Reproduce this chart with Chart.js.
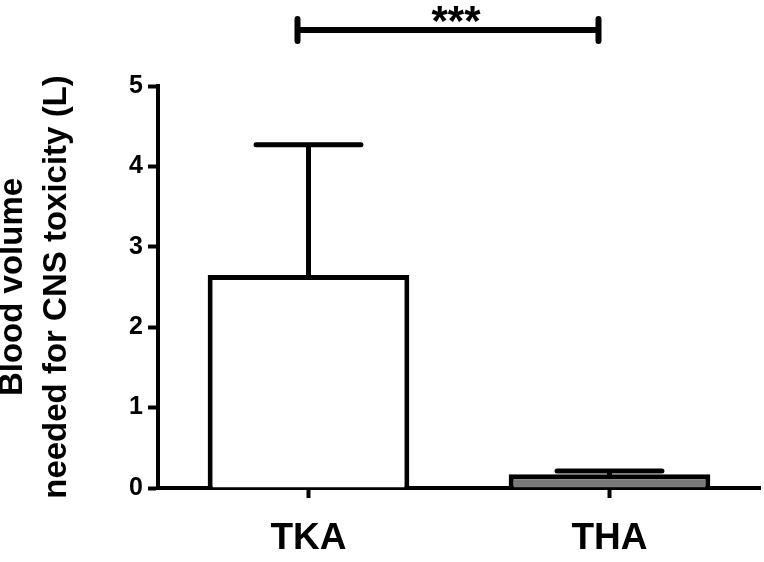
<!DOCTYPE html>
<html>
<head>
<meta charset="utf-8">
<script src="https://cdn.jsdelivr.net/npm/chart.js@4/dist/chart.umd.min.js"></script>
<style>
  html, body { margin: 0; padding: 0; background: #fff; }
  #wrap { width: 764px; height: 562px; }
</style>
</head>
<body>
<div id="wrap"><canvas id="bloodChart"></canvas></div>
<script>
const categories = ['TKA', 'THA'];
const meanVolume = [2.65, 0.17];
const sdVolume   = [1.62, 0.04];
const yTicks     = [0, 1, 2, 3, 4, 5];
const sigLabel   = '***';
const barFill    = ['#ffffff', '#7a7a7a'];

// error bars (mean + SD, upper only) and the significance bracket
const extrasPlugin = {
  id: 'extras',
  afterDatasetsDraw(chart) {
    const ctx = chart.ctx;
    const y = chart.scales.y;
    const bars = chart.getDatasetMeta(0).data;
    ctx.save();
    ctx.strokeStyle = '#000';
    ctx.lineWidth = 5;
    ctx.lineCap = 'round';
    bars.forEach((bar, i) => {
      const top = y.getPixelForValue(meanVolume[i] + sdVolume[i]);
      const half = bar.width * 0.26;
      ctx.beginPath();
      ctx.moveTo(bar.x, bar.y);
      ctx.lineTo(bar.x, top);
      ctx.moveTo(bar.x - half, top);
      ctx.lineTo(bar.x + half, top);
      ctx.stroke();
    });

    // bracket between the two groups, above the plot
    const x1 = bars[0].x - 11, x2 = bars[1].x - 11;
    const by = chart.chartArea.top - 56;
    ctx.lineWidth = 6;
    ctx.beginPath();
    ctx.moveTo(x1, by); ctx.lineTo(x2, by);
    ctx.moveTo(x1, by - 11); ctx.lineTo(x1, by + 11);
    ctx.moveTo(x2, by - 11); ctx.lineTo(x2, by + 11);
    ctx.stroke();
    ctx.fillStyle = '#000';
    ctx.font = 'bold 42px "Liberation Sans", Arial, sans-serif';
    ctx.textAlign = 'center';
    ctx.textBaseline = 'alphabetic';
    ctx.fillText(sigLabel, (x1 + x2) / 2 + 8, by + 5);
    ctx.restore();
  }
};

const ctx = document.getElementById('bloodChart').getContext('2d');
new Chart(ctx, {
  type: 'bar',
  data: {
    labels: categories,
    datasets: [{
      data: meanVolume,
      backgroundColor: barFill,
      borderColor: '#000',
      borderWidth: 5,
      borderSkipped: 'bottom',
      categoryPercentage: 1,
      barPercentage: 0.67
    }]
  },
  options: {
    responsive: true,
    maintainAspectRatio: false,
    animation: false,
    devicePixelRatio: 1,
    layout: { padding: { top: 86, right: 4, left: 0, bottom: 0 } },
    plugins: { legend: { display: false }, tooltip: { enabled: false } },
    scales: {
      x: {
        grid: { display: true, drawOnChartArea: false, offset: false, tickLength: 10, tickWidth: 4, tickColor: '#000' },
        border: { display: true, color: '#000', width: 4 },
        ticks: {
          color: '#000',
          padding: 19,
          font: { family: '"Liberation Sans", Arial, sans-serif', size: 37, weight: 'bold' }
        },
        afterFit: s => { s.height = 74; }
      },
      y: {
        min: 0,
        max: 5,
        afterBuildTicks: s => { s.ticks = yTicks.map(v => ({ value: v })); },
        grid: { display: true, drawOnChartArea: false, tickLength: 10, tickWidth: 4, tickColor: '#000' },
        border: { display: true, color: '#000', width: 4 },
        ticks: {
          color: '#000',
          padding: 5,
          font: { family: '"Liberation Sans", Arial, sans-serif', size: 25, weight: 'bold' }
        },
        title: {
          display: true,
          text: ['Blood volume', 'needed for CNS toxicity (L)'],
          color: '#000',
          padding: { top: -10, bottom: 0 },
          font: { family: '"Liberation Sans", Arial, sans-serif', size: 33, weight: 'bold', lineHeight: 1.36 }
        },
        afterFit: s => { s.width = 158; }
      }
    }
  },
  plugins: [extrasPlugin]
});
</script>
</body>
</html>
